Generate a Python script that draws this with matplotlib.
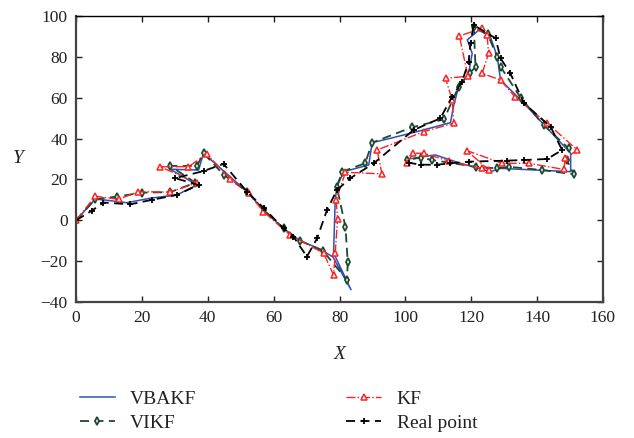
import matplotlib
matplotlib.use("Agg")
import matplotlib.pyplot as plt

plt.rcParams['font.family'] = ['Liberation Serif', 'DejaVu Serif']

# VBAKF estimate
vbakf_x = [0, 5.8, 8.3, 15.4, 22.5, 30.6, 36.7, 28.6, 37.2, 38.7, 46.8, 51.9, 57, 63, 68, 74, 78,
           83.5, 78.2, 78.7, 79.2, 81.3, 88.9, 89.9, 95.4, 105, 113.7, 114.7, 116.2, 119.2, 120.3,
           118.8, 122.3, 125.8, 127.9, 128.9, 136, 143.1, 150.2, 150.2, 128.9, 125.8, 116.7, 109.1, 100.5]
vbakf_y = [0, 10.3, 10, 8.6, 10.8, 12.4, 17.3, 25, 24.6, 32.8, 21.3, 14, 5, -4, -10, -14, -18,
           -34, -16, 10, 16.4, 23.8, 27.1, 38, 40.1, 44, 47.8, 56.4, 65.4, 71.9, 81.7,
           88.3, 93.1, 89.9, 80.1, 68.7, 57.3, 45, 32.8, 23.8, 25.4, 23.8, 27.9, 32, 29.9]

# VIKF estimate
vikf_x = [0, 5.8, 12.4, 20, 28.6, 36.2, 28.6, 36.7, 38.7, 45, 52, 57, 63, 68, 75, 82.3, 82.5, 81.8,
          79.2, 80.8, 87.8, 89.9, 102, 111.7, 116.2, 119.5, 121.3, 120.8, 125, 127.9, 128.9, 135,
          142, 149.6, 149, 151.2, 141.5, 131.4, 127.9, 121.3, 108.1, 104.6, 100.5]
vikf_y = [0, 10.3, 11.6, 13.5, 13.8, 18.4, 26.6, 26.6, 32.8, 22, 14, 5, -4, -10, -15, -29.3, -20.4, -3.3,
          16.4, 23.8, 27.9, 38, 45.5, 49.4, 65.4, 72, 75, 94.8, 91, 80, 75.2, 60,
          46.6, 35.2, 29.5, 22.5, 24.6, 26.2, 25.4, 26.2, 29.5, 30.7, 29.5]

# KF estimate
kf_x = [0, 5.8, 12.9, 18.9, 28.6, 36.7, 25.5, 34.1, 39.7, 46.8, 52.4, 56.9, 65, 75.2, 78.2, 78.7,
        79.4, 79, 81.8, 92.9, 91.4, 105.6, 114.7, 114.2, 112.2, 119.0, 116.4, 123.3, 124.8, 125.3,
        123.3, 128.9, 133.4, 143.1, 152.2, 148.6, 148.1, 137.5, 129.4, 118.7, 125.3, 123.3, 113.2,
        105.6, 102.3, 100.5]
kf_y = [0, 11.8, 10.3, 14, 13.8, 18.4, 26.2, 26.2, 32.4, 20.4, 13.2, 4.2, -7.2, -16.1, -26.8, -16.1,
        0.5, 9.9, 23.5, 22.7, 34.4, 43.4, 47.5, 58.9, 69.5, 70.5, 90.2, 94, 90.7, 81.7,
        71.9, 68.7, 60.2, 47.5, 34.4, 30.3, 24.9, 27.9, 27.9, 34.1, 24.6, 25.4, 29,
        32.8, 32.8, 28.2]

# Real point estimate
real_x = [0, 4.8, 8.3, 16.4, 23, 30.6, 37.2, 30.1, 38.7, 44.8, 51.9, 57, 63, 66, 70.1, 73.2, 76.2,
          79.2, 83.3, 90.4, 102.5, 110.6, 114.2, 117.2, 119.2, 119.8, 120.7, 127.4, 128.9, 131.9,
          136, 144.1, 147.6, 143.1, 136, 130.9, 119.3, 113.7, 109.6, 104.6, 101]
real_y = [0, 4.7, 8.7, 7.8, 10, 12.4, 17.3, 20.6, 24.1, 27.6, 14, 6, -4, -8, -17.8, -8.8, 5,
          14.8, 20.6, 27.9, 44.2, 49.9, 60.5, 67.8, 77.6, 86.6, 95.6, 89.1, 79.3, 71.9,
          57.3, 45.8, 34.4, 30, 29.5, 29.2, 28.7, 27.9, 27.2, 27.2, 28.2]

xticks = [0, 20, 40, 60, 80, 100, 120, 140, 160]
yticks = [-40, -20, 0, 20, 40, 60, 80, 100]

fig = plt.figure(figsize=(6.34, 4.38), dpi=100)
ax = fig.add_axes([0.12, 0.3105, 0.831, 0.653])

l1, = ax.plot(vbakf_x, vbakf_y, '-', color='#2f4fb8', lw=1.1, label='VBAKF')
l2, = ax.plot(vikf_x, vikf_y, '--', color='#1c4a2e', lw=1.3, marker='d', ms=4,
              mfc='white', mec='#1c4a2e', mew=1.3, label='VIKF', dashes=(5, 3))
l3, = ax.plot(kf_x, kf_y, '-.', color='#ff2020', lw=1.0, marker='^', ms=5,
              mfc='white', mec='#ff2020', mew=1.1, label='KF')
l4, = ax.plot(real_x, real_y, '--', color='black', lw=1.3, marker='+', ms=5, mew=1.3,
              label='Real point', dashes=(5, 3))

ax.set_xlim(0, 160)
ax.set_ylim(-40, 100)
ax.set_xticks(xticks)
ax.set_yticks(yticks)
ax.tick_params(direction='in', top=True, right=True, length=4, width=1,
               labelsize=12.5, colors='#222222', pad=6)
for side in ['left', 'bottom', 'right']:
    ax.spines[side].set_linewidth(1.6)
    ax.spines[side].set_color('#444444')
ax.spines['top'].set_linewidth(1.0)
ax.spines['top'].set_color('black')

ax.set_xlabel('X', fontsize=14, fontstyle='italic', color='#222222', labelpad=14)
ax.set_ylabel('Y', fontsize=14, fontstyle='italic', color='#222222', rotation=0, labelpad=16, va='center')

fig.legend(handles=[l1, l2, l3, l4], ncol=2, loc='upper left',
           bbox_to_anchor=(0.098, 0.148), bbox_transform=fig.transFigure,
           frameon=False, fontsize=14, handlelength=1.8, columnspacing=7.7,
           labelspacing=0.3, handletextpad=0.8)
for t in fig.legends[0].get_texts():
    t.set_color('#222222')

fig.savefig('out.png', dpi=100)
